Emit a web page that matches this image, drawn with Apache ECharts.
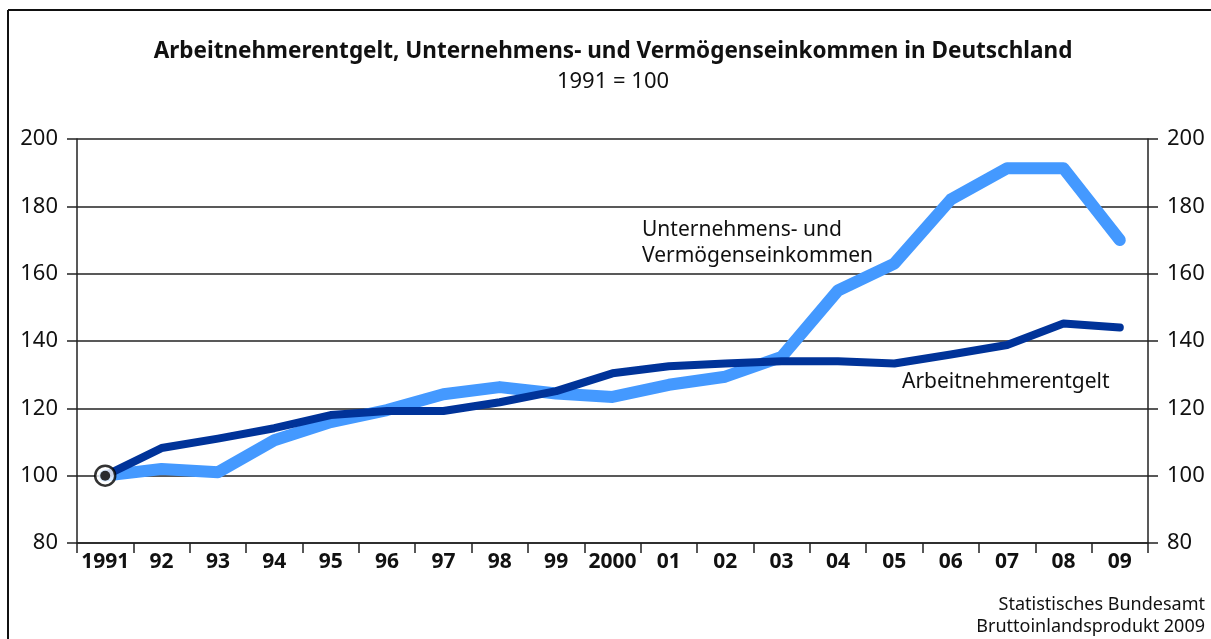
<!DOCTYPE html>
<html>
<head>
<meta charset="utf-8">
<script src="https://cdn.jsdelivr.net/npm/echarts@6/dist/echarts.min.js"></script>
<style>
html,body{margin:0;padding:0;background:#fff;}
#c{width:1211px;height:639px;}
</style>
</head>
<body>
<div id="c"></div>
<script>
var categories = ['1991','92','93','94','95','96','97','98','99','2000','01','02','03','04','05','06','07','08','09'];
var arbeitnehmerentgelt = [100,108.2,111,114.1,118,119.2,119.2,121.8,125.1,130.4,132.5,133.3,134,134,133.3,136,138.8,145.2,144];
var unternehmenseinkommen = [100,102,101,110.5,115.9,119.5,124.2,126.3,124.4,123.4,127,129.4,135.3,155,163,182,191.3,191.3,170];
var yTicks = {min:80, max:200, interval:20};

var FONT = '"Noto Sans", "Open Sans", sans-serif';
var chart = echarts.init(document.getElementById('c'), null, {renderer:'canvas'});

function yAxis(pos){
  return {
    type:'value', position:pos, min:yTicks.min, max:yTicks.max, interval:yTicks.interval,
    axisLine:{show:true, lineStyle:{color:'#222', width:1.5}},
    axisTick:{show:true, inside:false, length:10, lineStyle:{color:'#222', width:1.5}},
    axisLabel:{margin:19, color:'#111', fontFamily:FONT, fontSize:22},
    splitLine:{show: pos==='left', lineStyle:{color:'#222', width:1.5}}
  };
}

chart.setOption({
  animation:false,
  backgroundColor:'#fff',
  grid:{left:77, right:63, top:139, bottom:96, containLabel:false},
  xAxis:{
    type:'category', data:categories, boundaryGap:true,
    axisLine:{show:true, lineStyle:{color:'#222', width:1.5}},
    axisTick:{show:true, inside:false, length:10, alignWithLabel:false, lineStyle:{color:'#222', width:1.5}},
    axisLabel:{margin:9, color:'#111', fontFamily:FONT, fontSize:21, fontWeight:'bold', interval:0},
    splitLine:{show:false}
  },
  yAxis:[yAxis('left'), yAxis('right')],
  graphic:[
    {type:'line', shape:{x1:8, y1:10, x2:1211, y2:10}, style:{stroke:'#111', lineWidth:2}},
    {type:'line', shape:{x1:8, y1:10, x2:8, y2:639}, style:{stroke:'#111', lineWidth:2}},
    {type:'text', x:613, y:40, style:{text:'Arbeitnehmerentgelt, Unternehmens- und Vermögenseinkommen in Deutschland', fontFamily:FONT, fontSize:22.5, fontWeight:'bold', fill:'#111', align:'center', verticalAlign:'top'}},
    {type:'text', x:613, y:71, style:{text:'1991 = 100', fontFamily:FONT, fontSize:22, fill:'#111', align:'center', verticalAlign:'top'}},
    {type:'text', left:642, top:217, style:{text:'Unternehmens- und\nVermögenseinkommen', fontFamily:FONT, fontSize:21, lineHeight:26, fill:'#111'}},
    {type:'text', left:902, top:372, style:{text:'Arbeitnehmerentgelt', fontFamily:FONT, fontSize:21, fill:'#111'}},
    {type:'text', x:1205, y:594, style:{text:'Statistisches Bundesamt\nBruttoinlandsprodukt 2009', fontFamily:FONT, fontSize:18, lineHeight:22, fill:'#111', align:'right', verticalAlign:'top'}}
  ],
  series:[
    {name:'Unternehmens- und Vermögenseinkommen', type:'line', data:unternehmenseinkommen, symbol:'none',
     lineStyle:{color:'#4499ff', width:12, cap:'round', join:'round'}, z:2},
    {name:'Arbeitnehmerentgelt', type:'line', data:arbeitnehmerentgelt, symbol:'none',
     lineStyle:{color:'#003399', width:8, cap:'round', join:'round'}, z:3},
    {type:'scatter', data:[[0, arbeitnehmerentgelt[0]]], symbol:'circle', symbolSize:20,
     itemStyle:{color:'#fff', borderColor:'#000', borderWidth:2.5}, z:4, silent:true},
    {type:'scatter', data:[[0, arbeitnehmerentgelt[0]]], symbol:'circle', symbolSize:10,
     itemStyle:{color:'#000'}, z:5, silent:true}
  ]
});
</script>
</body>
</html>
